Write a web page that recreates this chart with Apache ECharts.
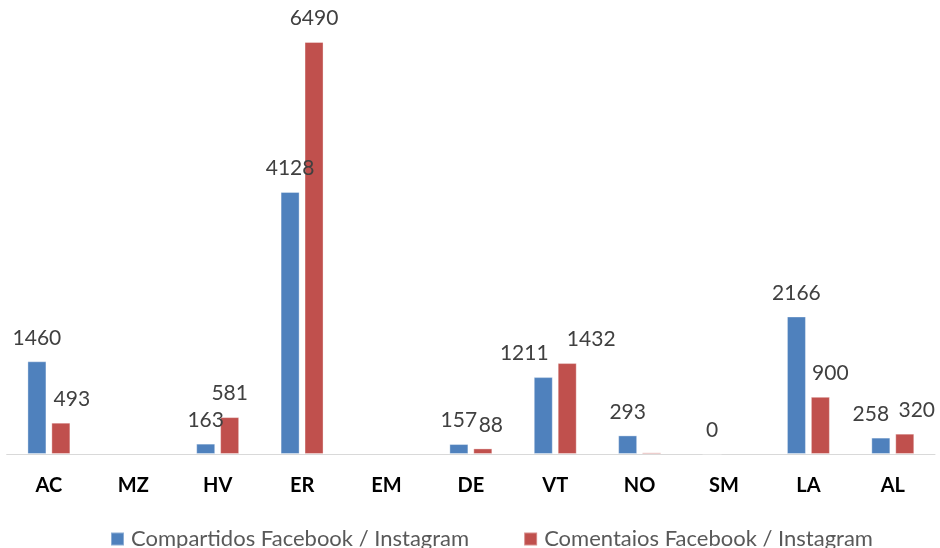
<!DOCTYPE html>
<html>
<head>
<meta charset="utf-8">
<title>Compartidos y comentarios</title>
<script src="https://cdn.jsdelivr.net/npm/echarts@6/dist/echarts.min.js"></script>
<style>
  html, body { margin: 0; padding: 0; background: #ffffff; }
  #chart { width: 940px; height: 548px; }
</style>
</head>
<body>
<div id="chart"></div>
<script>
// Categories along the x axis
const categories = ['AC', 'MZ', 'HV', 'ER', 'EM', 'DE', 'VT', 'NO', 'SM', 'LA', 'AL'];

// Series names
const seriesNames = ['Compartidos Facebook / Instagram', 'Comentaios Facebook / Instagram'];

// Values per category (null = no bar)
const compartidos = [1460, null, 163, 4128, null, 157, 1211, 293, 0, 2166, 258];
const comentarios = [493, null, 581, 6490, null, 88, 1432, 25, null, 900, 320];

// Categories whose value label is not printed
const hiddenLabelsB = ['NO'];

// Horizontal label nudges (px) where neighbouring labels would collide
const nudgeA = { VT: -19, AL: -10 };
const nudgeB = { AC: 11, DE: 8, VT: 24, LA: 10, AL: 12 };

const FONT = 'Lato, "Open Sans", "Noto Sans", sans-serif';
const BLUE = '#4F81BD';
const RED = '#C0504D';

function buildData(values, nudges, hidden) {
  return values.map((v, i) => {
    const cat = categories[i];
    const item = { value: v };
    if (hidden && hidden.indexOf(cat) >= 0) {
      item.label = { show: false };
    } else if (nudges[cat] !== undefined) {
      item.label = { offset: [nudges[cat], 0] };
    }
    return item;
  });
}

const labelStyle = {
  show: true,
  position: 'top',
  distance: 13,
  color: '#404040',
  fontFamily: FONT,
  fontSize: 21
};

const chart = echarts.init(document.getElementById('chart'), null, { renderer: 'canvas' });

chart.setOption({
  animation: false,
  backgroundColor: '#ffffff',
  grid: {
    left: 6.7,
    top: 9.6,
    width: 928.3,
    bottom: 94,
    containLabel: false
  },
  legend: {
    left: 105,
    top: 523,
    itemWidth: 13,
    itemHeight: 13,
    itemGap: 54,
    icon: 'rect',
    textStyle: {
      fontFamily: FONT,
      fontSize: 22,
      color: '#595959',
      padding: [0, 0, 0, 2]
    },
    data: seriesNames
  },
  xAxis: {
    type: 'category',
    data: categories,
    axisLine: { show: true, lineStyle: { color: '#d9d9d9', width: 1 } },
    axisTick: { show: false },
    axisLabel: {
      margin: 22,
      color: '#000000',
      fontFamily: FONT,
      fontWeight: 'bold',
      fontSize: 20
    },
    splitLine: { show: false }
  },
  yAxis: {
    type: 'value',
    min: 0,
    max: 7000,
    show: false,
    splitLine: { show: false }
  },
  series: [
    {
      name: seriesNames[0],
      type: 'bar',
      barWidth: 19,
      barGap: '26%',
      itemStyle: { color: BLUE, borderColor: 'rgba(255,255,255,0.35)', borderWidth: 1 },
      label: labelStyle,
      data: buildData(compartidos, nudgeA, null)
    },
    {
      name: seriesNames[1],
      type: 'bar',
      barWidth: 19,
      barGap: '26%',
      itemStyle: { color: RED, borderColor: 'rgba(255,255,255,0.35)', borderWidth: 1 },
      label: labelStyle,
      data: buildData(comentarios, nudgeB, hiddenLabelsB)
    }
  ]
});
</script>
</body>
</html>
